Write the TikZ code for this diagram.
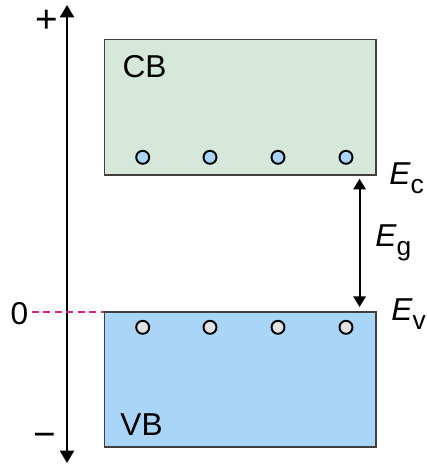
\documentclass[tikz,border=0pt]{standalone}
\usepackage{fontspec}
\setmainfont{Liberation Sans}
\definecolor{cbGreen}{HTML}{D5E8DA}
\definecolor{vbBlue}{HTML}{A9D5F9}
\definecolor{dotGray}{HTML}{E2E2E2}
\definecolor{zeroMagenta}{HTML}{D2257E}
\definecolor{boxEdge}{HTML}{404040}
\usetikzlibrary{positioning,arrows.meta,calc}
\newcommand{\enlev}[1]{\textit{E}\raisebox{-0.28em}{\fontsize{15}{16}\selectfont #1}}

\begin{document}
\begin{tikzpicture}[x=0.02cm,y=-0.02cm,font=\fontsize{18}{20}\selectfont,
  band/.style={draw=boxEdge, line width=0.9pt, minimum width=5.43cm, minimum height=2.71cm, inner sep=0pt},
  carrier/.style={circle, draw=black, line width=1.1pt, minimum size=0.26cm, inner sep=0pt},
  lbl/.style={inner sep=0pt},
  sign/.style={inner sep=0pt, font=\fontsize{22}{24}\selectfont}]
\useasboundingbox (0,0) rectangle (426,465);
% energy axis
\coordinate (top) at (67,5); \coordinate (bot) at (67,463);
\draw[{Triangle[width=8pt,length=7pt]}-{Triangle[width=8pt,length=7pt]}, line width=1.1pt] (bot) -- (top);
\node[sign] (plus) at (46.5,21) {+};
\node[sign] (minus) at (44.5,440.5) {−};
% bands
\node[band, fill=cbGreen] (cb) at (240.25,107.25) {};
\node[band, fill=vbBlue] (vb) at (240.25,379.5) {};
\node[lbl] (cbname) at (144.5,67) {CB};
\node[lbl] (vbname) at (141.5,425) {VB};
\foreach \x [count=\i] in {142.7,210,278,346} {
  \node[carrier, fill=vbBlue] (e\i) at (\x,157.3) {};
  \node[carrier, fill=dotGray] (h\i) at (\x,327.3) {};
}
% zero level
\node[lbl] (zero) at (19.5,313.5) {0};
\coordinate (z) at (32,312);
\draw[zeroMagenta, dash pattern=on 4pt off 2.5pt, line width=0.9pt] (z) -- (z -| vb.west);
% gap
\coordinate (gtop) at ($(cb.south west)!0.937!(cb.south east)$);
\coordinate (gbot) at ($(vb.north west)!0.937!(vb.north east)$);
\draw[{Triangle[width=7pt,length=6pt]}-{Triangle[width=7pt,length=6pt]}, line width=1.1pt, shorten <=2.3pt, shorten >=1.7pt] (gbot) -- (gtop);
\node[lbl, anchor=west] (ec) at (389,178) {\enlev{c}};
\node[lbl, anchor=west] (eg) at (375,243) {\enlev{g}};
\node[lbl, anchor=west] (ev) at (391,314) {\enlev{v}};
\end{tikzpicture}
\end{document}
